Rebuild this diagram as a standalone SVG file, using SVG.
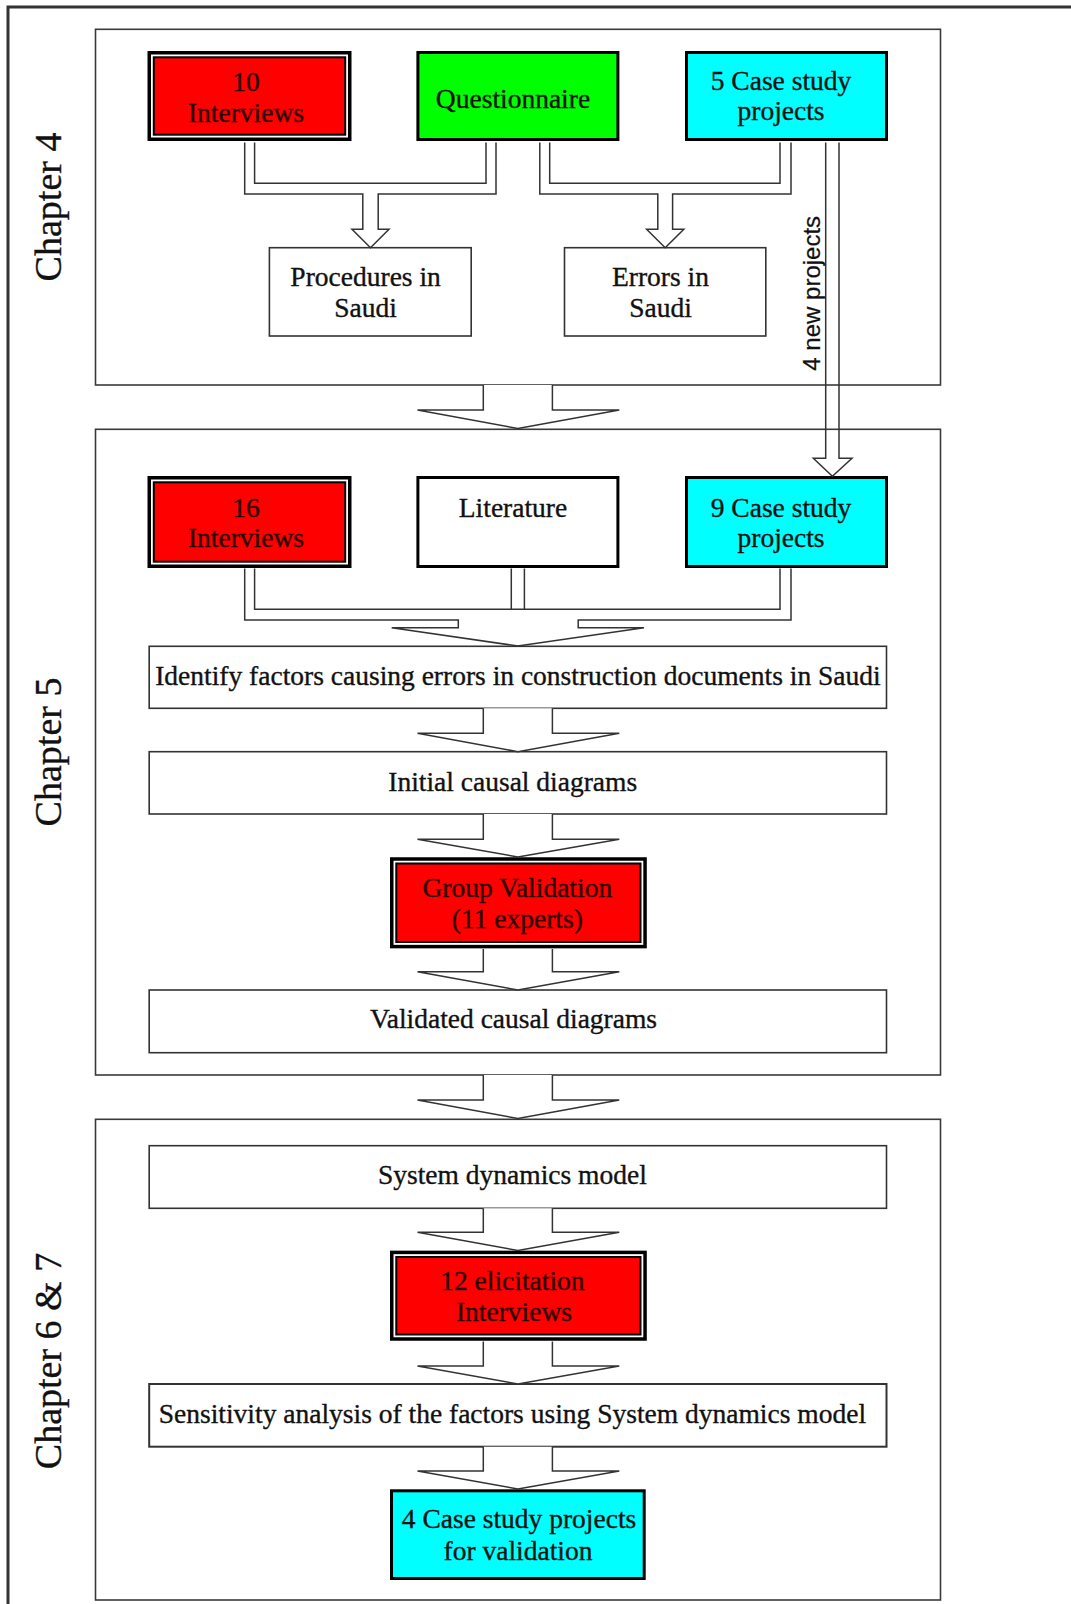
<svg xmlns="http://www.w3.org/2000/svg" width="1071" height="1604" viewBox="0 0 1071 1604">
  <style>
    .frame { fill: none; stroke: #333; stroke-width: 3; }
    .panel { fill: none; stroke: #3a3a3a; stroke-width: 1.6; }
    .plain { fill: #fff; stroke: #333; stroke-width: 1.6; }
    .bold { stroke: #000; stroke-width: 3; }
    .outer { fill: #fff; stroke: #000; stroke-width: 3.5; }
    .red { fill: #ff0000; stroke: #000; stroke-width: 2; }
    .green { fill: #00ff00; }
    .cyan { fill: #00ffff; }
    .white { fill: #fff; }
    .pipe { fill: none; stroke: #333; stroke-width: 1.5; stroke-linejoin: miter; }
    .arrow { fill: #fff; stroke: #333; stroke-width: 1.5; stroke-linejoin: miter; }
    text { font-family: "Liberation Serif", "Times New Roman", serif; font-size: 27.5px; fill: #111; stroke: #111; stroke-width: 0.35; text-anchor: middle; }
    .onred { fill: #2a0000; stroke: #2a0000; }
    .chapter { font-size: 38px; }
    .side { font-family: "Liberation Sans", Arial, sans-serif; font-size: 24px; stroke-width: 0.2; }
  </style>

  <!-- outer frame (only top and left edges fall inside the canvas) -->
  <rect class="frame" x="8" y="7" width="1080" height="1610"/>

  <!-- chapter panels -->
  <g id="panels">
    <rect class="panel" x="95.5" y="29.3" width="845" height="355.7"/>
    <rect class="panel" x="95.5" y="429.3" width="845" height="645.7"/>
    <rect class="panel" x="95.5" y="1119.3" width="845" height="480.7"/>
  </g>

  <g id="chapter-labels">
    <text class="chapter" transform="translate(61,207) rotate(-90)">Chapter 4</text>
    <text class="chapter" transform="translate(61,752) rotate(-90)">Chapter 5</text>
    <text class="chapter" transform="translate(61,1361) rotate(-90)">Chapter 6 &amp; 7</text>
  </g>

  <!-- chapter 4 sources -->
  <g id="interviews-10">
    <rect class="outer" x="149.25" y="52.75" width="200.5" height="86.5"/>
    <rect class="red" x="153.8" y="57.3" width="191.4" height="77.4"/>
    <text class="onred" x="246" y="90.5">10</text>
    <text class="onred" x="246" y="121.5">Interviews</text>
  </g>
  <g id="questionnaire">
    <rect class="green bold" x="417.9" y="52.5" width="200" height="87"/>
    <text x="513" y="108.3">Questionnaire</text>
  </g>
  <g id="case-study-5">
    <rect class="cyan bold" x="686.5" y="52.5" width="200" height="87"/>
    <text x="781" y="90">5 Case study</text>
    <text x="781" y="120">projects</text>
  </g>
  <g id="procedures">
    <rect class="plain" x="269.4" y="247.7" width="201.8" height="88.3"/>
    <text x="365.6" y="286">Procedures in</text>
    <text x="365.6" y="316.7">Saudi</text>
  </g>
  <g id="errors">
    <rect class="plain" x="564.5" y="247.7" width="201.3" height="88.3"/>
    <text x="660.5" y="286">Errors in</text>
    <text x="660.5" y="316.7">Saudi</text>
  </g>

  <!-- chapter 5 sources and steps -->
  <g id="interviews-16">
    <rect class="outer" x="149.25" y="477.75" width="200.5" height="88.5"/>
    <rect class="red" x="153.8" y="482.3" width="191.4" height="79.4"/>
    <text class="onred" x="246" y="516.7">16</text>
    <text class="onred" x="246" y="546.7">Interviews</text>
  </g>
  <g id="literature">
    <rect class="white bold" x="417.9" y="477.5" width="200" height="89"/>
    <text x="513" y="516.7">Literature</text>
  </g>
  <g id="case-study-9">
    <rect class="cyan bold" x="686.5" y="477.5" width="200" height="89"/>
    <text x="781" y="516.7">9 Case study</text>
    <text x="781" y="546.7">projects</text>
  </g>
  <g id="identify-factors">
    <rect class="plain" x="149.2" y="646.3" width="737.3" height="62"/>
    <text x="517.9" y="685">Identify factors causing errors in construction documents in Saudi</text>
  </g>
  <g id="initial-diagrams">
    <rect class="plain" x="149.2" y="751.7" width="737.3" height="62.3"/>
    <text x="512.7" y="790.7">Initial causal diagrams</text>
  </g>
  <g id="group-validation">
    <rect class="outer" x="391.75" y="859" width="253.3" height="87.6"/>
    <rect class="red" x="396.3" y="863.5" width="244.2" height="78.5"/>
    <text class="onred" x="517.3" y="896.7">Group Validation</text>
    <text class="onred" x="517.3" y="927.5">(11 experts)</text>
  </g>
  <g id="validated-diagrams">
    <rect class="plain" x="149.2" y="990" width="737.3" height="62.7"/>
    <text x="513.5" y="1028.3">Validated causal diagrams</text>
  </g>

  <!-- chapter 6 & 7 steps -->
  <g id="system-dynamics">
    <rect class="plain" x="149.2" y="1145.7" width="737.3" height="62.6"/>
    <text x="512.4" y="1184">System dynamics model</text>
  </g>
  <g id="elicitation">
    <rect class="outer" x="391.75" y="1252.4" width="253.3" height="86.6"/>
    <rect class="red" x="396.3" y="1257" width="244.2" height="77.5"/>
    <text class="onred" x="512.4" y="1290">12 elicitation</text>
    <text class="onred" x="514" y="1320.7">Interviews</text>
  </g>
  <g id="sensitivity">
    <rect class="plain" x="149.2" y="1384" width="737.3" height="62.7" style="stroke-width:2"/>
    <text x="512.4" y="1422.7">Sensitivity analysis of the factors using System dynamics model</text>
  </g>
  <g id="case-study-validation">
    <rect class="cyan bold" x="391.5" y="1490.8" width="252.7" height="87.7"/>
    <text x="519" y="1528.3">4 Case study projects</text>
    <text x="518" y="1560">for validation</text>
  </g>

  <!-- connectors: double-line pipes and block arrows -->
  <g id="connectors">
    <!-- interviews + questionnaire -> procedures -->
    <path class="pipe" d="M244.7,142.5 V194 H362.8 V229.3 H352 L370.5,247.7 L389,229.3 H378.2 V194 H496 V142.5"/>
    <path class="pipe" d="M254.6,142.5 V183.3 H486 V142.5"/>
    <!-- questionnaire + case studies -> errors -->
    <path class="pipe" d="M539.8,142.5 V194 H657.8 V229.3 H646.6 L665.2,247.7 L683.8,229.3 H672.6 V194 H791 V142.5"/>
    <path class="pipe" d="M549.7,142.5 V183.3 H780 V142.5"/>
    <!-- 4 new projects -->
    <path class="pipe" d="M825.7,142.5 V458.3 H813.3 L832.4,476.3 L852,458.3 H839 V142.5"/>
    <text class="side" transform="translate(820,293.3) rotate(-90)">4 new projects</text>

    <!-- chapter 4 -> chapter 5 -->
    <path class="arrow" d="M483.3,385 V410 H417.5 L517.9,428.5 L619.3,410 H552.4 V385"/>

    <!-- interviews + literature + case studies -> identify factors -->
    <path class="pipe" d="M244.7,568.5 V620 H458.3 V627.7 H391.7 L517.8,646 L644,627.7 H578.2 V620 H791 V568.5"/>
    <path class="pipe" d="M254.6,568.5 V609.3 H780 V568.5"/>
    <path class="pipe" d="M511.3,568.5 V609.3 M524.4,568.5 V609.3"/>

    <path class="arrow" d="M483.3,708.3 V733.3 H417.5 L517.9,751.7 L619.3,733.3 H552.4 V708.3"/>
    <path class="arrow" d="M483.3,814 V839.3 H417.5 L517.9,857 L619.3,839.3 H552.4 V814"/>
    <path class="arrow" d="M483.3,949 V971.7 H417.5 L517.9,990 L619.3,971.7 H552.4 V949"/>

    <!-- chapter 5 -> chapter 6 & 7 -->
    <path class="arrow" d="M483.3,1075 V1100 H417.5 L517.9,1118.5 L619.3,1100 H552.4 V1075"/>

    <path class="arrow" d="M483.3,1208.3 V1232.3 H417.5 L517.9,1250.5 L619.3,1232.3 H552.4 V1208.3"/>
    <path class="arrow" d="M483.3,1341.5 V1366 H417.5 L517.9,1384 L619.3,1366 H552.4 V1341.5"/>
    <path class="arrow" d="M483.3,1446.7 V1471 H417.5 L517.9,1489 L619.3,1471 H552.4 V1446.7"/>
  </g>
</svg>
